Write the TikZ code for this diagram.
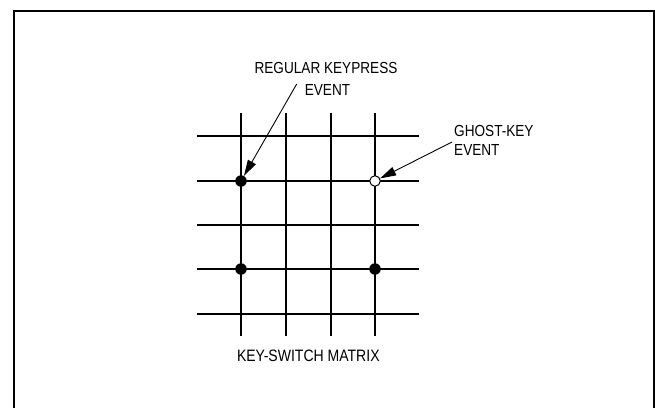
\documentclass[tikz,border=0pt]{standalone}
\usepackage{fontspec}
\setmainfont{Liberation Sans}[FakeStretch=0.85]
\usetikzlibrary{arrows.meta}
\tikzset{
  gridline/.style={line width=1.7pt},
  frameline/.style={line width=1.7pt},
  lbl/.style={inner sep=0pt, anchor=base, font=\fontsize{16}{19}\selectfont},
  lblleft/.style={lbl, anchor=base west},
  keydot/.style={circle, fill=black, inner sep=0pt, minimum size=11.5pt},
  ghostdot/.style={circle, draw=black, fill=white, line width=1pt, inner sep=0pt, minimum size=10.5pt},
  pointer/.style={line width=0.9pt, -{Triangle[length=16pt,width=9pt]}}
}
\begin{document}
\begin{tikzpicture}[x=1pt,y=-1pt]
\useasboundingbox (0,0) rectangle (655,407);
% frame
\draw[frameline] (14,408) -- (14,11) -- (654,11) -- (654,408);
% grid
\foreach \x in {241,286,331,375}
  \draw[gridline] (\x,113) -- (\x,336);
\foreach \y in {136,181,225,269,314}
  \draw[gridline] (197,\y) -- (419,\y);
% dots
\node[keydot] (d1) at (241,181) {};
\node[keydot] (d2) at (241,269) {};
\node[keydot] (d3) at (375,269) {};
\node[ghostdot] (g1) at (375,181) {};
% labels
\node[lbl] (reg1) at (326,73.3) {REGULAR KEYPRESS};
\node[lbl] (reg2) at (327.5,95) {EVENT};
\node[lblleft] (gh1) at (454,136.7) {GHOST-KEY};
\node[lblleft] (gh2) at (454,155) {EVENT};
\node[lbl, font=\fontsize{16.5}{19}\selectfont] (ksm) at (308.3,361.7) {KEY-SWITCH MATRIX};
% arrows
\coordinate (a1) at (296.7,84);
\coordinate (a2) at (452,142);
\draw[pointer] (a1) -- (d1);
\draw[pointer] (a2) -- (g1);
\end{tikzpicture}
\end{document}
